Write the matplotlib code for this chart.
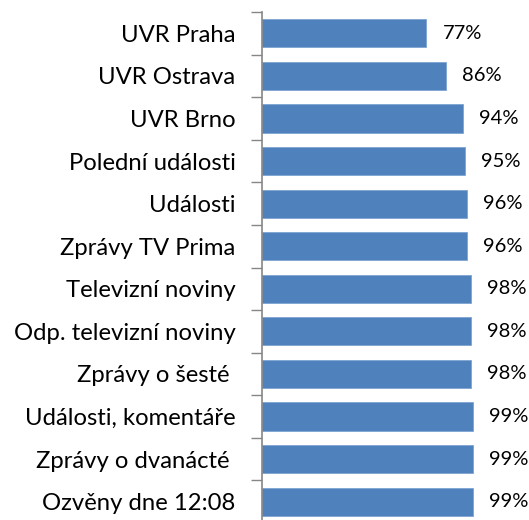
import numpy as np
import matplotlib.pyplot as plt

categories = ["UVR Praha", "UVR Ostrava", "UVR Brno", "Polední události", "Události",
              "Zprávy TV Prima", "Televizní noviny", "Odp. televizní noviny",
              "Zprávy o šesté ", "Události, komentáře", "Zprávy o dvanácté ",
              "Ozvěny dne 12:08"]
values = [77, 86, 94, 95, 96, 96, 98, 98, 98, 99, 99, 99]

plt.rcParams['font.family'] = ['Lato', 'DejaVu Sans']

fig = plt.figure(figsize=(5.29, 5.20), dpi=100)
ax = fig.add_axes([262 / 529, -3 / 520, 267 / 529, 511 / 520])

y = np.arange(len(categories))
ax.barh(y, values, height=0.66, color='#4F81BD', edgecolor='#7FA3D3', linewidth=0.6)
for yi, v in zip(y, values):
    ax.text(v + 7.5, yi, f"{v}%", va='center', ha='left', fontsize=14.5, color='black')

ax.set_xlim(0, 125)
ax.set_ylim(len(categories) - 0.5, -0.5)
ax.set_yticks(y)
ax.set_yticklabels(categories, fontsize=17.2)
ax.set_yticks(np.arange(len(categories) + 1) - 0.5, minor=True)
ax.tick_params(axis='y', which='major', length=0, pad=19)
ax.tick_params(axis='y', which='minor', length=8, color='#868686', width=1)
ax.xaxis.set_visible(False)
for s in ['top', 'right', 'bottom']:
    ax.spines[s].set_visible(False)
ax.spines['left'].set_color('#868686')
ax.spines['left'].set_linewidth(1.2)

fig.savefig('out.png', dpi=100)
